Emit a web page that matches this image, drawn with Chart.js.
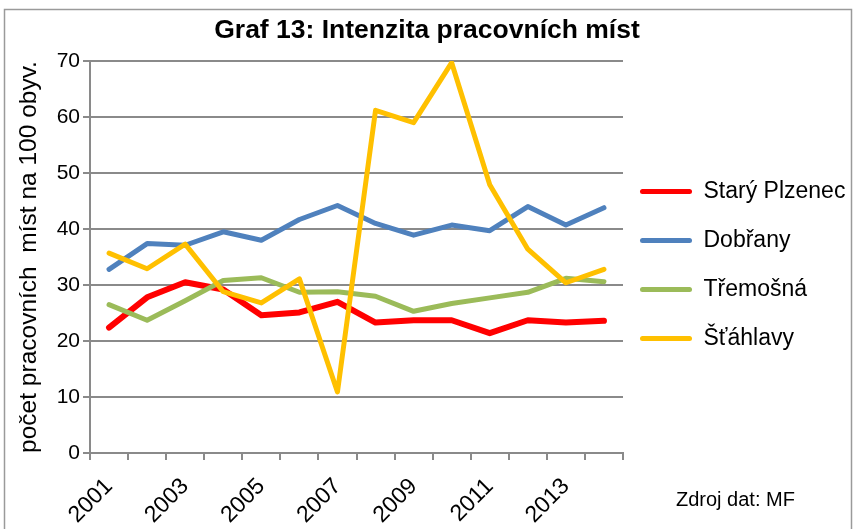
<!DOCTYPE html>
<html><head><meta charset="utf-8">
<script src="https://cdn.jsdelivr.net/npm/chart.js@4.4.1/dist/chart.umd.min.js"></script>
<style>html,body{margin:0;padding:0;background:#fff}#wrap{width:854px;height:529px;position:relative}</style>
</head><body><div id="wrap"><canvas id="c" width="854" height="529"></canvas></div>
<script>
const years = ['2001','2002','2003','2004','2005','2006','2007','2008','2009','2010','2011','2012','2013','2014'];
const staryPlzenec = [22.4, 27.8, 30.5, 29.2, 24.6, 25.1, 27.0, 23.3, 23.7, 23.7, 21.4, 23.7, 23.3, 23.6];
const dobrany      = [32.8, 37.4, 37.1, 39.5, 38.0, 41.7, 44.2, 41.0, 38.9, 40.7, 39.7, 44.0, 40.7, 43.8];
const tremosna     = [26.5, 23.7, 27.2, 30.8, 31.3, 28.7, 28.8, 28.0, 25.3, 26.7, 27.7, 28.7, 31.2, 30.6];
const stahlavy     = [35.7, 32.9, 37.3, 28.8, 26.8, 31.1, 10.9, 61.2, 59.0, 69.7, 47.9, 36.4, 30.4, 32.8];
const seriesNames  = ['Starý Plzenec', 'Dobřany', 'Třemošná', 'Šťáhlavy'];
const yTicks = [0, 10, 20, 30, 40, 50, 60, 70];
const titleText = 'Graf 13: Intenzita pracovních míst';
const yTitleText = 'počet pracovních  míst na 100 obyv.';
const sourceText = 'Zdroj dat: MF';

const FONT = '"Liberation Sans", Arial, sans-serif';
const GRID = '#8a8a8a';
Chart.defaults.font.family = FONT;
Chart.defaults.color = '#000';

const colors = ['#FF0000', '#4F81BD', '#9BBB59', '#FFC000'];
const widths = [6, 5, 5, 5];
const values = [staryPlzenec, dobrany, tremosna, stahlavy];

const decor = {
  id: 'decor',
  afterLayout(chart) {
    const lg = chart.legend;
    if (lg) { lg.left -= 9; lg.right -= 9; lg.top += 8; lg.bottom += 8; }
  },
  beforeDraw(chart) {
    const ctx = chart.ctx;
    ctx.save();
    ctx.fillStyle = '#fff';
    ctx.fillRect(0, 0, chart.width, chart.height);
    ctx.strokeStyle = '#9a9a9a';
    ctx.lineWidth = 1.5;
    ctx.strokeRect(4.5, 9.5, 847, 530);
    ctx.restore();
  },
  afterDraw(chart) {
    const ctx = chart.ctx;
    ctx.save();
    ctx.font = '20px ' + FONT;
    ctx.fillStyle = '#000';
    ctx.textBaseline = 'alphabetic';
    ctx.fillText(sourceText, 676, 506);
    ctx.restore();
  }
};

new Chart(document.getElementById('c'), {
  type: 'line',
  data: {
    labels: years,
    datasets: values.map((v, i) => ({
      label: seriesNames[i],
      data: v,
      borderColor: colors[i],
      backgroundColor: colors[i],
      borderWidth: widths[i],
      pointRadius: 0,
      tension: 0,
      borderCapStyle: 'round',
      borderJoinStyle: 'round',
      order: 3 - i
    }))
  },
  options: {
    responsive: false,
    animation: false,
    devicePixelRatio: 1,
    layout: { padding: { left: 0, right: 0, top: 0, bottom: 0 } },
    plugins: {
      tooltip: { enabled: false },
      title: {
        display: true, text: titleText, color: '#000',
        font: { size: 26.5, weight: 'bold', lineHeight: 1.2 },
        padding: { top: 15, bottom: 14.2 }
      },
      legend: {
        position: 'right', fullSize: false, align: 'center', maxWidth: 231,
        labels: {
          font: { size: 23 }, color: '#000',
          boxWidth: 52, boxHeight: 5, padding: 26,
          useBorderRadius: true, borderRadius: 2.5,
          sort: (a, b) => a.datasetIndex - b.datasetIndex,
          generateLabels(chart) {
            return Chart.defaults.plugins.legend.labels.generateLabels(chart).map(l => {
              const ds = chart.data.datasets[l.datasetIndex];
              l.fillStyle = ds.borderColor; l.strokeStyle = ds.borderColor; l.lineWidth = 0;
              return l;
            });
          }
        }
      }
    },
    scales: {
      x: {
        offset: true,
        afterFit(s) { s.height = 76; },
        grid: { offset: true, drawOnChartArea: false, drawTicks: true, tickLength: 7, color: GRID, lineWidth: 2 },
        border: { display: true, color: GRID, width: 2 },
        ticks: {
          autoSkip: false, minRotation: 45, maxRotation: 45, padding: 13,
          font: { size: 23 }, color: '#000',
          callback: (v, i) => (i % 2 === 0 ? years[i] : '')
        }
      },
      y: {
        min: yTicks[0], max: yTicks[yTicks.length - 1],
        afterFit(s) { s.width = 90; },
        afterBuildTicks(s) { s.ticks = yTicks.map(v => ({ value: v })); },
        grid: { color: GRID, lineWidth: 2, tickLength: 7 },
        border: { display: true, color: GRID, width: 2 },
        ticks: { font: { size: 21 }, color: '#000', padding: 3 },
        title: { display: true, text: yTitleText, color: '#000', font: { size: 24.5 }, padding: { top: 15, bottom: 0 } }
      }
    }
  },
  plugins: [decor]
});
</script>
</body></html>
